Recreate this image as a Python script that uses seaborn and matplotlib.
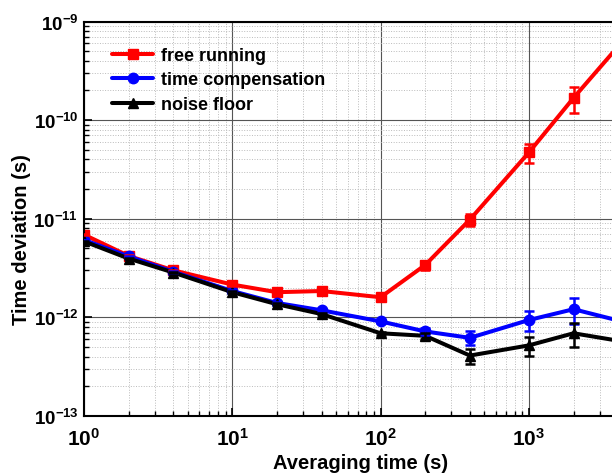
import numpy as np
import pandas as pd
import matplotlib
matplotlib.use("Agg")
import matplotlib.pyplot as plt
import seaborn as sns
from matplotlib.ticker import LogLocator, NullFormatter
from matplotlib.lines import Line2D

sns.set_theme(style="white")
plt.rcParams['font.family'] = ['Liberation Sans', 'DejaVu Sans']
plt.rcParams['mathtext.fontset'] = 'custom'
plt.rcParams['mathtext.rm'] = 'Liberation Sans:bold'
plt.rcParams['mathtext.it'] = 'Liberation Sans:bold'
plt.rcParams['mathtext.bf'] = 'Liberation Sans:bold'
plt.rcParams['text.color'] = 'black'
plt.rcParams['axes.labelcolor'] = 'black'
plt.rcParams['xtick.color'] = 'black'
plt.rcParams['ytick.color'] = 'black'

tau = [1, 2, 4, 10, 20, 40, 100, 200, 400, 1000, 2000, 4000]

free_running = [6.9e-12, 4.2e-12, 3.0e-12, 2.15e-12, 1.8e-12, 1.85e-12, 1.6e-12,
                3.4e-12, 9.8e-12, 4.7e-11, 1.68e-10, 5.6e-10]
free_running_err = [0.1e-12, 0.1e-12, 0.05e-12, 0.05e-12, 0.05e-12, 0.05e-12, 0.05e-12,
                    0.35e-12, 1.4e-12, 1.0e-11, 0.5e-10, 1.5e-10]

time_comp = [6.1e-12, 4.15e-12, 2.9e-12, 1.85e-12, 1.4e-12, 1.18e-12, 9.1e-13,
             7.2e-13, 6.2e-13, 9.4e-13, 1.21e-12, 9.3e-13]
time_comp_err = [0.05e-12, 0.05e-12, 0.05e-12, 0.03e-12, 0.03e-12, 0.03e-12, 0.3e-13,
                 0.6e-13, 1.0e-13, 2.2e-13, 0.35e-12, 2.0e-13]

noise_floor = [5.9e-12, 3.95e-12, 2.85e-12, 1.8e-12, 1.36e-12, 1.08e-12, 6.9e-13,
               6.5e-13, 4.1e-13, 5.2e-13, 6.9e-13, 5.8e-13]
noise_floor_err = [0.05e-12, 0.05e-12, 0.05e-12, 0.03e-12, 0.03e-12, 0.03e-12, 0.2e-13,
                   0.4e-13, 0.7e-13, 1.1e-13, 1.9e-13, 1.5e-13]

names = ['free running', 'time compensation', 'noise floor']
colors = {'free running': '#ff0000', 'time compensation': '#0000ff', 'noise floor': '#000000'}
markers = {'free running': 's', 'time compensation': 'o', 'noise floor': '^'}

df = pd.DataFrame({
    'tau': tau * 3,
    'dev': free_running + time_comp + noise_floor,
    'err': free_running_err + time_comp_err + noise_floor_err,
    'series': [names[0]] * len(tau) + [names[1]] * len(tau) + [names[2]] * len(tau),
})

W, H = 612, 477
L, R, T, B = 84, 612, 22.5, 417
fig = plt.figure(figsize=(W / 100, H / 100), dpi=100)
ax = fig.add_axes([L / W, 1 - B / H, (R - L) / W, (B - T) / H])

sns.lineplot(data=df, x='tau', y='dev', hue='series', style='series',
             hue_order=names, style_order=names, palette=colors, markers=markers,
             dashes=False, linewidth=2.9, markersize=7.5, markeredgewidth=1,
             ax=ax, legend=False, errorbar=None, sort=False)
for line in ax.lines:
    line.set_markeredgecolor(line.get_color())

for name in names:
    sub = df[df['series'] == name]
    ax.errorbar(sub['tau'], sub['dev'], yerr=sub['err'], fmt='none',
                ecolor=colors[name], elinewidth=1.8, capsize=3.8, capthick=1.8, zorder=3)

ax.set_xscale('log')
ax.set_yscale('log')
ax.set_xlim(1, 10 ** ((R - L) / 148.3))
ax.set_ylim(1e-13, 1e-9)

ax.xaxis.set_major_locator(LogLocator(base=10, numticks=10))
ax.xaxis.set_minor_locator(LogLocator(base=10, subs=np.arange(2, 10), numticks=20))
ax.yaxis.set_major_locator(LogLocator(base=10, numticks=10))
ax.yaxis.set_minor_locator(LogLocator(base=10, subs=np.arange(2, 10), numticks=20))
ax.xaxis.set_minor_formatter(NullFormatter())
ax.yaxis.set_minor_formatter(NullFormatter())

ax.grid(True, which='major', color='#555555', linewidth=0.8, linestyle='-')
ax.grid(True, which='minor', color='#bbbbbb', linewidth=0.7, linestyle=':')
ax.set_axisbelow(True)

ax.tick_params(axis='both', which='major', direction='in', length=6, width=1.2,
               colors='black', left=True, bottom=True)
ax.tick_params(axis='x', which='major', labelsize=15, pad=8)
ax.tick_params(axis='y', which='major', labelsize=13.5, pad=4)
ax.tick_params(axis='both', which='minor', direction='in', length=3.5, width=1,
               left=True, bottom=True)
for lab in ax.get_xticklabels() + ax.get_yticklabels():
    lab.set_fontweight('bold')

for s in ['left', 'bottom', 'top']:
    ax.spines[s].set_color('black')
    ax.spines[s].set_linewidth(1.5)
ax.spines['right'].set_visible(False)

ax.set_xlabel('Averaging time (s)', fontsize=14.5, fontweight='bold', color='black')
ax.xaxis.set_label_coords((361 - L) / (R - L), (B - 454) / (B - T))
ax.set_ylabel('Time deviation (s)', fontsize=14.5, fontweight='bold', color='black')
ax.yaxis.set_label_coords((31 - L) / (R - L), (B - 240) / (B - T))

handles = [Line2D([0], [0], color=colors[n], marker=markers[n], linewidth=2.9,
                  markersize=7.5, markeredgecolor=colors[n]) for n in names]
leg = ax.legend(handles, names, loc='upper left', bbox_to_anchor=(0.022, 0.977),
                frameon=False, handlelength=2.3, handletextpad=0.4, labelspacing=0.42,
                prop={'weight': 'bold', 'size': 13}, labelcolor='black')

fig.savefig('out.png', dpi=100)
